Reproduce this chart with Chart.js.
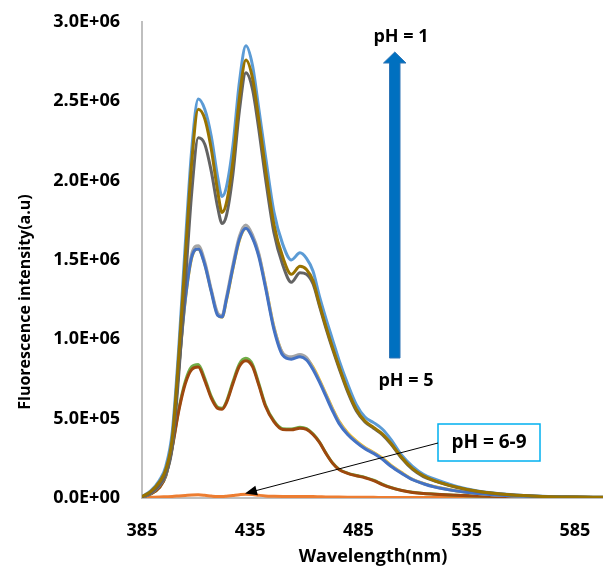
<!DOCTYPE html>
<html>
<head>
<meta charset="utf-8">
<script src="https://cdn.jsdelivr.net/npm/chart.js@4.4.1/dist/chart.umd.min.js"></script>
<style>
  body { margin: 0; background: #fff; }
  canvas { display: block; }
</style>
</head>
<body>
<canvas id="myChart" width="603" height="572"></canvas>
<script>
// Longueurs d'onde (nm)
var wavelengths = [385, 389, 393, 396, 399, 402, 405, 408, 411, 414, 417, 420, 422, 424, 427, 430, 433, 436, 439, 442, 446, 450, 454, 458, 461, 464, 467, 470, 473, 476, 480, 484, 488, 492, 496, 500, 505, 510, 515, 520, 530, 540, 555, 570, 585, 598];

// Intensités
var ph1LightBlue = [10000, 45000, 110000, 200000, 420000, 950000, 1600000, 2200000, 2515000, 2450000, 2280000, 2020000, 1900000, 1960000, 2220000, 2620000, 2850000, 2730000, 2450000, 2160000, 1800000, 1600000, 1500000, 1545000, 1510000, 1430000, 1270000, 1130000, 1000000, 870000, 720000, 590000, 510000, 475000, 435000, 370000, 270000, 200000, 150000, 120000, 75000, 45000, 22000, 11000, 6000, 4000];
var ph2Gold = [8000, 40000, 100000, 180000, 380000, 900000, 1520000, 2120000, 2450000, 2390000, 2200000, 1930000, 1800000, 1860000, 2120000, 2520000, 2760000, 2650000, 2380000, 2080000, 1720000, 1520000, 1410000, 1460000, 1440000, 1370000, 1220000, 1080000, 950000, 830000, 680000, 560000, 485000, 445000, 405000, 345000, 255000, 185000, 140000, 110000, 70000, 42000, 20000, 10000, 6000, 4000];
var ph3DarkGray = [6000, 30000, 80000, 150000, 320000, 780000, 1350000, 1930000, 2270000, 2230000, 2060000, 1830000, 1730000, 1780000, 2040000, 2440000, 2680000, 2580000, 2320000, 2020000, 1670000, 1470000, 1360000, 1420000, 1410000, 1350000, 1210000, 1070000, 940000, 820000, 670000, 550000, 480000, 440000, 400000, 340000, 250000, 180000, 135000, 108000, 68000, 41000, 20000, 10000, 6000, 4000];
var ph4Blue = [6000, 30000, 80000, 150000, 350000, 820000, 1250000, 1520000, 1570000, 1470000, 1300000, 1150000, 1140000, 1250000, 1450000, 1630000, 1700000, 1640000, 1520000, 1330000, 1060000, 900000, 875000, 890000, 870000, 810000, 730000, 640000, 550000, 470000, 400000, 350000, 310000, 280000, 245000, 200000, 155000, 115000, 90000, 70000, 45000, 28000, 14000, 8000, 5000, 3000];
var ph4Gray = [6000, 30000, 80000, 150000, 350000, 830000, 1265000, 1540000, 1590000, 1490000, 1315000, 1165000, 1150000, 1265000, 1470000, 1650000, 1720000, 1660000, 1540000, 1345000, 1075000, 915000, 890000, 905000, 885000, 820000, 740000, 650000, 560000, 480000, 405000, 355000, 315000, 285000, 248000, 203000, 157000, 117000, 91000, 71000, 45000, 28000, 14000, 8000, 5000, 3000];
var ph4Yellow = [6000, 30000, 80000, 150000, 345000, 815000, 1245000, 1515000, 1570000, 1475000, 1305000, 1155000, 1140000, 1245000, 1445000, 1625000, 1700000, 1645000, 1530000, 1345000, 1075000, 910000, 880000, 895000, 880000, 825000, 745000, 655000, 565000, 485000, 412000, 360000, 318000, 287000, 252000, 207000, 160000, 118000, 92000, 72000, 46000, 29000, 14000, 8000, 5000, 3000];
var ph5Brown = [5000, 25000, 65000, 140000, 320000, 550000, 720000, 810000, 825000, 740000, 630000, 565000, 560000, 600000, 720000, 830000, 865000, 830000, 710000, 580000, 480000, 432000, 430000, 440000, 432000, 400000, 350000, 280000, 220000, 180000, 155000, 140000, 128000, 110000, 85000, 65000, 47000, 35000, 28000, 24000, 17000, 12000, 8000, 5000, 4000, 3000];
var ph5Green = [5000, 25000, 65000, 140000, 325000, 560000, 735000, 828000, 842000, 755000, 640000, 572000, 566000, 608000, 732000, 845000, 880000, 843000, 720000, 588000, 486000, 437000, 435000, 446000, 437000, 404000, 353000, 283000, 222000, 182000, 157000, 142000, 130000, 112000, 87000, 66000, 48000, 36000, 29000, 25000, 17000, 12000, 8000, 5000, 4000, 3000];
var ph6to9Orange = [2000, 4000, 6000, 8000, 10000, 13000, 16000, 19000, 20000, 17000, 12000, 9000, 9000, 11000, 16000, 21000, 24000, 22000, 17000, 13000, 11000, 10000, 10000, 10000, 9500, 9000, 8000, 7000, 6500, 6000, 5500, 5000, 4500, 4000, 3800, 3500, 3200, 3000, 2800, 2600, 2400, 2200, 2000, 1800, 1600, 1500];

// Graduations
var xTicks = [385, 435, 485, 535, 585];
var yTicks = [0, 500000, 1000000, 1500000, 2000000, 2500000, 3000000];

var fontFamily = "'Open Sans', 'Liberation Sans', sans-serif";

function toPoints(values) {
    return values.map(function(v, i) { return { x: wavelengths[i], y: v }; });
}

function serie(values, color) {
    return {
        data: toPoints(values),
        borderColor: color,
        borderWidth: 3,
        pointRadius: 0,
        fill: false,
        cubicInterpolationMode: 'monotone'
    };
}

// Format 3.0E+06
function sciLabel(v) {
    var parts = v.toExponential(1).split('e');
    var exp = parts[1];
    return parts[0] + 'E' + exp[0] + exp.slice(1).padStart(2, '0');
}

// Flèches, textes et titres des axes
var annotations = {
    id: 'annotations',
    afterDraw: function(chart) {
        var ctx = chart.ctx;
        ctx.save();

        // flèche bleue pH 5 -> pH 1
        ctx.fillStyle = '#0070C0';
        ctx.strokeStyle = '#2E75B6';
        ctx.lineWidth = 1;
        ctx.beginPath();
        ctx.moveTo(389.5, 358);
        ctx.lineTo(389.5, 63);
        ctx.lineTo(383.5, 63);
        ctx.lineTo(394.8, 52);
        ctx.lineTo(406, 63);
        ctx.lineTo(400, 63);
        ctx.lineTo(400, 358);
        ctx.closePath();
        ctx.fill();
        ctx.stroke();

        ctx.fillStyle = '#000';
        ctx.textAlign = 'center';
        ctx.textBaseline = 'middle';
        ctx.font = 'bold 18px ' + fontFamily;
        ctx.fillText('pH = 1', 401, 37);
        ctx.fillText('pH = 5', 406, 381);

        // boîte pH = 6-9
        ctx.strokeStyle = '#00B0F0';
        ctx.lineWidth = 1.5;
        ctx.fillStyle = '#fff';
        ctx.fillRect(438, 424, 102, 37);
        ctx.strokeRect(438, 424, 102, 37);
        ctx.fillStyle = '#000';
        ctx.font = 'bold 19px ' + fontFamily;
        ctx.fillText('pH = 6-9', 489, 443);

        // flèche noire
        var x1 = 438, y1 = 443, x2 = 245, y2 = 493.5;
        var ang = Math.atan2(y2 - y1, x2 - x1);
        ctx.strokeStyle = '#000';
        ctx.lineWidth = 1;
        ctx.beginPath();
        ctx.moveTo(x1, y1);
        ctx.lineTo(x2 - 8 * Math.cos(ang), y2 - 8 * Math.sin(ang));
        ctx.stroke();
        ctx.beginPath();
        ctx.moveTo(x2, y2);
        ctx.lineTo(x2 - 12 * Math.cos(ang) + 5 * Math.sin(ang), y2 - 12 * Math.sin(ang) - 5 * Math.cos(ang));
        ctx.lineTo(x2 - 12 * Math.cos(ang) - 5 * Math.sin(ang), y2 - 12 * Math.sin(ang) + 5 * Math.cos(ang));
        ctx.closePath();
        ctx.fill();

        // titres des axes
        ctx.font = 'bold 18px ' + fontFamily;
        ctx.fillText('Wavelength(nm)', 373, 557);
        ctx.translate(25, 302);
        ctx.rotate(-Math.PI / 2);
        ctx.font = 'bold 16px ' + fontFamily;
        ctx.fillText('Fluorescence intensity(a.u)', 0, 0);

        ctx.restore();
    }
};

var ctx = document.getElementById('myChart').getContext('2d');
var myChart = new Chart(ctx, {
    type: 'line',
    data: {
        datasets: [
            serie(ph2Gold, '#997300'),
            serie(ph3DarkGray, '#636363'),
            serie(ph1LightBlue, '#5B9BD5'),
            serie(ph4Blue, '#4472C4'),
            serie(ph4Gray, '#A5A5A5'),
            serie(ph4Yellow, '#FFC000'),
            serie(ph5Brown, '#9E480E'),
            serie(ph5Green, '#70AD47'),
            serie(ph6to9Orange, '#ED7D31')
        ]
    },
    options: {
        responsive: false,
        animation: false,
        layout: { padding: { top: 22, right: 0, bottom: 0, left: 0 } },
        plugins: {
            legend: { display: false },
            tooltip: { enabled: false }
        },
        scales: {
            x: {
                type: 'linear',
                min: 385,
                max: 598,
                grid: { display: false, drawTicks: false },
                border: { display: true, color: '#BFBFBF', width: 2 },
                afterBuildTicks: function(scale) {
                    scale.ticks = xTicks.map(function(v) { return { value: v }; });
                },
                afterFit: function(scale) {
                    scale.height = 74;
                    scale.paddingLeft = 0;
                    scale.paddingRight = 0;
                },
                ticks: {
                    color: '#000',
                    padding: 22,
                    maxRotation: 0,
                    autoSkip: false,
                    font: { family: fontFamily, size: 18, weight: 'bold' }
                }
            },
            y: {
                min: 0,
                max: 3000000,
                grid: { display: false, drawTicks: false },
                border: { display: true, color: '#BFBFBF', width: 2 },
                afterBuildTicks: function(scale) {
                    scale.ticks = yTicks.map(function(v) { return { value: v }; });
                },
                afterFit: function(scale) {
                    scale.width = 142;
                    scale.paddingTop = 0;
                    scale.paddingBottom = 0;
                },
                ticks: {
                    color: '#000',
                    padding: 22,
                    autoSkip: false,
                    callback: function(v) { return sciLabel(v); },
                    font: { family: fontFamily, size: 18, weight: 'bold' }
                }
            }
        }
    },
    plugins: [annotations]
});
</script>
</body>
</html>
